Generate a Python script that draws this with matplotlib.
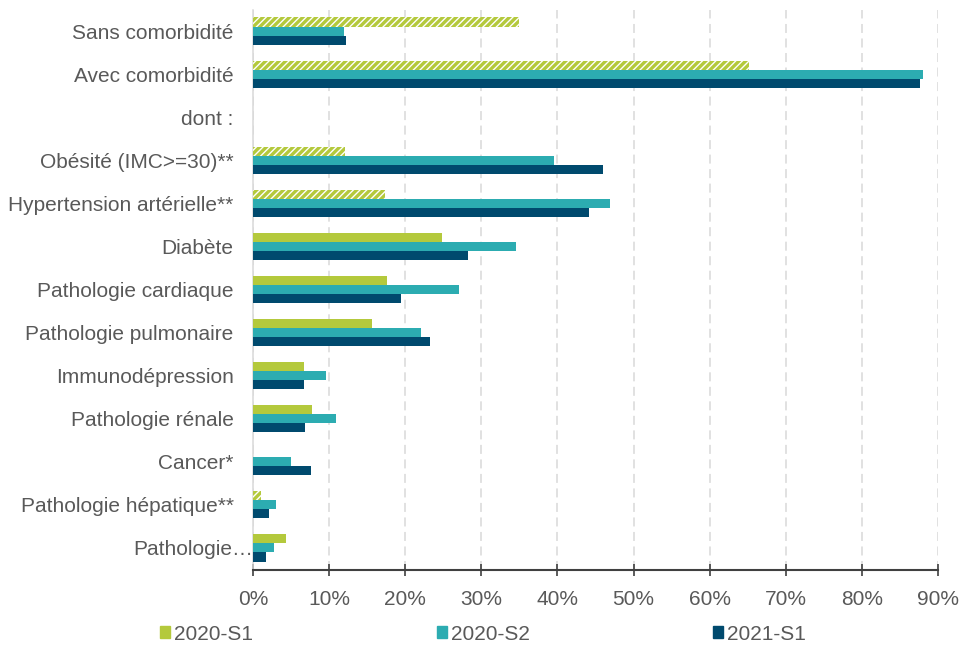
import numpy as np
import matplotlib
matplotlib.use("Agg")
import matplotlib.pyplot as plt
from matplotlib.transforms import ScaledTranslation

plt.rcParams["font.family"] = ["Liberation Sans", "DejaVu Sans"]
plt.rcParams["hatch.linewidth"] = 2.4

categories = [
    "Sans comorbidité",
    "Avec comorbidité",
    "dont :",
    "Obésité (IMC>=30)**",
    "Hypertension artérielle**",
    "Diabète",
    "Pathologie cardiaque",
    "Pathologie pulmonaire",
    "Immunodépression",
    "Pathologie rénale",
    "Cancer*",
    "Pathologie hépatique**",
    "Pathologie…",
]

# shares of patients, in %
s1_2020 = [34.9, 65.2, np.nan, 12.1, 17.4, 24.8, 17.6, 15.7, 6.7, 7.7, np.nan, 1.0, 4.3]
s2_2020 = [11.9, 88.0, np.nan, 39.6, 46.9, 34.5, 27.1, 22.1, 9.6, 10.9, 4.95, 3.05, 2.8]
s1_2021 = [12.25, 87.7, np.nan, 46.0, 44.1, 28.2, 19.5, 23.2, 6.65, 6.8, 7.6, 2.1, 1.7]
# 2020-S1 values drawn hatched
s1_2020_hatched = [True, True, False, True, True, False, False, False, False, False, False, True, False]

series_names = ["2020-S1", "2020-S2", "2021-S1"]
xticks = [0, 10, 20, 30, 40, 50, 60, 70, 80, 90]

GREEN = "#b4c93c"
TEAL = "#2cacb1"
NAVY = "#004a6e"
TEXT = "#595959"

fig = plt.figure(figsize=(9.6, 6.48), dpi=100)
ax = fig.add_axes([253 / 960, 1 - 569.5 / 648, 685 / 960, 560 / 648])

y = np.arange(len(categories))
h = 0.21

for i, v in enumerate(s1_2020):
    if np.isnan(v):
        continue
    if s1_2020_hatched[i]:
        ax.barh(y[i] - h, v, height=h, color="white", edgecolor=GREEN,
                hatch="/////", linewidth=0, zorder=3)
    else:
        ax.barh(y[i] - h, v, height=h, color=GREEN, linewidth=0, zorder=3)
ax.barh(y, s2_2020, height=h, color=TEAL, linewidth=0, zorder=3)
ax.barh(y + h, s1_2021, height=h, color=NAVY, linewidth=0, zorder=3)

ax.set_xlim(0, 90)
ax.set_ylim(len(categories) - 0.5, -0.5)
ax.set_xticks(xticks)
ax.set_xticklabels([f"{t}%" for t in xticks])
ax.set_yticks(y)
ax.set_yticklabels(categories)

ax.grid(axis="x", color="#d9d9d9", linewidth=1.1, linestyle=(0, (5.9, 3.6)), zorder=0)
ax.set_axisbelow(True)

for s in ["top", "right"]:
    ax.spines[s].set_visible(False)
ax.spines["left"].set_color("#d9d9d9")
ax.spines["left"].set_linewidth(1.1)
ax.spines["bottom"].set_color("#404040")
ax.spines["bottom"].set_linewidth(1.5)

ax.tick_params(axis="x", direction="inout", length=8, width=1.2, color="#404040",
               labelsize=15, labelcolor=TEXT, pad=11)
ax.tick_params(axis="y", length=0, labelsize=15, labelcolor=TEXT, pad=14)

# last label sits a bit closer to the axis
lab = ax.get_yticklabels()[-1]
lab.set_transform(lab.get_transform() + ScaledTranslation(14 / 72, 0, fig.dpi_scale_trans))

handles = [plt.Rectangle((0, 0), 1, 1, color=c) for c in (GREEN, TEAL, NAVY)]
leg = fig.legend(handles, series_names, loc="center left",
                 bbox_to_anchor=(160 / 960, 1 - 634 / 648), ncol=3, frameon=False,
                 fontsize=15, handlelength=0.48, handleheight=0.48,
                 handletextpad=0.2, columnspacing=8.8, borderpad=0, borderaxespad=0)
for t in leg.get_texts():
    t.set_color(TEXT)

fig.savefig("out.png", dpi=100)
